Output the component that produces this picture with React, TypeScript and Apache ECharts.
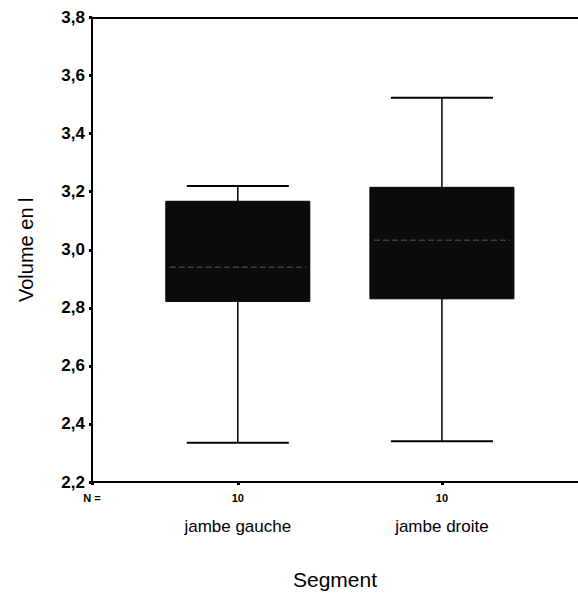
import React, { useEffect, useRef } from "react";
import * as echarts from "echarts";

// Data
const categories = ["jambe gauche", "jambe droite"];
const counts = [10, 10];
const whiskerLow = [2.335, 2.34];
const q1 = [2.822, 2.831];
const median = [2.94, 3.033];
const q3 = [3.167, 3.215];
const whiskerHigh = [3.22, 3.524];
const yTicks = { min: 2.2, max: 3.8, step: 0.2 };

// slot layout on the category axis (index 0 carries "N =")
const slotCount = 51;
const slotOf = [15, 36];

export default function App() {
  const ref = useRef<HTMLDivElement>(null);

  useEffect(() => {
    if (!ref.current) return;
    const chart = echarts.init(ref.current, null, { renderer: "svg" });

    const axisData: string[] = [];
    for (let i = 0; i < slotCount; i++) axisData.push("");
    axisData[0] = "N =";
    slotOf.forEach((s, k) => {
      axisData[s] = String(counts[k]) + "\n" + categories[k];
    });
    const shown = new Set<number>([0, ...slotOf]);

    const boxData = categories.map((_, k) => [
      slotOf[k],
      whiskerLow[k],
      q1[k],
      median[k],
      q3[k],
      whiskerHigh[k],
    ]);

    const font = "'Liberation Sans', Arial, Helvetica, sans-serif";

    chart.setOption({
      animation: false,
      backgroundColor: "#ffffff",
      grid: {
        left: 92,
        right: 0,
        top: 17.5,
        bottom: 112,
        show: false,
      },
      xAxis: [
        {
          type: "category",
          data: axisData,
          boundaryGap: false,
          position: "bottom",
          name: "Segment",
          nameLocation: "middle",
          nameGap: 87,
          nameTextStyle: { fontFamily: font, fontSize: 21, color: "#000" },
          axisLine: { show: true, onZero: false, lineStyle: { color: "#000", width: 2 } },
          axisTick: {
            show: true,
            interval: (i: number) => shown.has(i),
            length: 3,
            lineStyle: { color: "#000", width: 3 },
          },
          splitLine: { show: false },
          axisLabel: {
            interval: (i: number) => shown.has(i),
            margin: 9,
            fontFamily: font,
            color: "#000",
            formatter: (v: string) => {
              if (!v) return "";
              if (v.indexOf("\n") < 0) return "{n|" + v + "}";
              const [a, b] = v.split("\n");
              return "{n|" + a + "}\n{c|" + b + "}";
            },
            rich: {
              n: { fontSize: 11, fontWeight: "bold", lineHeight: 13, fontFamily: font, color: "#000" },
              c: { fontSize: 17, lineHeight: 44, fontFamily: font, color: "#000" },
            },
          },
        },
        {
          type: "category",
          data: axisData,
          boundaryGap: false,
          position: "top",
          axisLine: { show: true, onZero: false, lineStyle: { color: "#000", width: 2 } },
          axisTick: { show: false },
          axisLabel: { show: false },
          splitLine: { show: false },
        },
      ],
      yAxis: {
        type: "value",
        min: yTicks.min,
        max: yTicks.max,
        interval: yTicks.step,
        name: "Volume en l",
        nameLocation: "middle",
        nameGap: 56,
        nameTextStyle: { fontFamily: font, fontSize: 20, color: "#000" },
        axisLine: { show: true, lineStyle: { color: "#000", width: 2 } },
        axisTick: { show: true, length: 3, lineStyle: { color: "#000", width: 3 } },
        splitLine: { show: false },
        axisLabel: {
          margin: 7,
          fontFamily: font,
          fontSize: 17,
          fontWeight: "bold",
          color: "#000",
          formatter: (v: number) => v.toFixed(1).replace(".", ","),
        },
      },
      series: [
        {
          type: "custom",
          xAxisIndex: 0,
          data: boxData,
          encode: { x: 0, y: [1, 2, 3, 4, 5] },
          renderItem: (params: any, api: any) => {
            const x = api.value(0);
            const pLow = api.coord([x, api.value(1)]);
            const pQ1 = api.coord([x, api.value(2)]);
            const pMed = api.coord([x, api.value(3)]);
            const pQ3 = api.coord([x, api.value(4)]);
            const pHigh = api.coord([x, api.value(5)]);
            const cx = pLow[0];
            const boxHalf = 72;
            const capHalf = 51;
            return {
              type: "group",
              children: [
                {
                  type: "line",
                  shape: { x1: cx, y1: pHigh[1], x2: cx, y2: pLow[1] },
                  style: { stroke: "#000", lineWidth: 1.5 },
                },
                {
                  type: "line",
                  shape: { x1: cx - capHalf, y1: pHigh[1], x2: cx + capHalf, y2: pHigh[1] },
                  style: { stroke: "#000", lineWidth: 2 },
                },
                {
                  type: "line",
                  shape: { x1: cx - capHalf, y1: pLow[1], x2: cx + capHalf, y2: pLow[1] },
                  style: { stroke: "#000", lineWidth: 2 },
                },
                {
                  type: "rect",
                  shape: {
                    x: cx - boxHalf,
                    y: pQ3[1],
                    width: boxHalf * 2,
                    height: pQ1[1] - pQ3[1],
                  },
                  style: { fill: "#0b0b0b", stroke: "#000", lineWidth: 1 },
                },
                {
                  type: "line",
                  shape: { x1: cx - boxHalf + 4, y1: pMed[1], x2: cx + boxHalf - 4, y2: pMed[1] },
                  style: { stroke: "#5a5a5a", lineWidth: 1, lineDash: [6, 3] },
                },
              ],
            };
          },
        },
      ],
    });

    return () => chart.dispose();
  }, []);

  return (
    <div
      ref={ref}
      style={{ position: "absolute", left: 0, top: 0, width: 578, height: 595 }}
    />
  );
}
